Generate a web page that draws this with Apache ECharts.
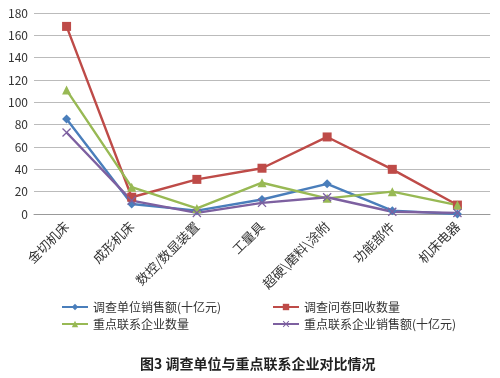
<!DOCTYPE html>
<html>
<head>
<meta charset="utf-8">
<script src="https://cdn.jsdelivr.net/npm/echarts@6/dist/echarts.min.js"></script>
<style>
  html, body { margin: 0; padding: 0; background: #fff; }
  #chart { width: 500px; height: 378px; }
</style>
</head>
<body>
<div id="chart"></div>
<script>
var categories = ["金切机床", "成形机床", "数控/数显装置", "工量具", "超硬\\磨料\\涂附", "功能部件", "机床电器"];
var salesSurvey = [85, 9, 3, 13, 27, 3, 0];      // 调查单位销售额(十亿元)
var questionnaires = [168, 15, 31, 41, 69, 40, 8]; // 调查问卷回收数量
var keyCount = [111, 24, 5, 28, 14, 20, 8];        // 重点联系企业数量
var keySales = [73, 12, 1, 10, 15, 2, 1];          // 重点联系企业销售额(十亿元)
var yTicks = [0, 180, 20];

var names = ["调查单位销售额(十亿元)", "调查问卷回收数量", "重点联系企业数量", "重点联系企业销售额(十亿元)"];
var colors = ["#4a7ebb", "#be4b48", "#98b954", "#7d60a0"];
var xMark = "path://M0,1L1,0L5,4L9,0L10,1L6,5L10,9L9,10L5,6L1,10L0,9L4,5Z";

var chart = echarts.init(document.getElementById("chart"));

function line(i, data, symbol, size) {
  return {
    name: names[i],
    type: "line",
    data: data,
    symbol: symbol,
    symbolSize: size,
    color: colors[i],
    lineStyle: { width: 2.4, color: colors[i] },
    itemStyle: { color: colors[i] },
    animation: false
  };
}

chart.setOption({
  textStyle: { fontFamily: "'Noto Sans CJK SC', 'DejaVu Sans', sans-serif" },
  title: {
    text: "图3 调查单位与重点联系企业对比情况",
    left: 135,
    top: 352,
    textStyle: { fontSize: 14, fontWeight: "bold", color: "#222" }
  },
  legend: [
    {
      data: [names[0], names[2]],
      orient: "vertical",
      left: 56,
      top: 296,
      itemWidth: 26,
      itemHeight: 8,
      itemGap: 5,
      textStyle: { fontSize: 12, color: "#333" }
    },
    {
      data: [names[1], names[3]],
      orient: "vertical",
      left: 267,
      top: 296,
      itemWidth: 26,
      itemHeight: 8,
      itemGap: 5,
      textStyle: { fontSize: 12, color: "#333" }
    }
  ],
  grid: { left: 34, right: 10, top: 13, bottom: 164 },
  xAxis: {
    type: "category",
    data: categories,
    boundaryGap: true,
    axisLine: { lineStyle: { color: "#999" } },
    axisTick: { lineStyle: { color: "#999" }, length: 5 },
    axisLabel: { rotate: 45, fontSize: 13, color: "#333", margin: 10, interval: 0 }
  },
  yAxis: {
    type: "value",
    min: yTicks[0],
    max: yTicks[1],
    interval: yTicks[2],
    axisLine: { show: false },
    axisTick: { show: false },
    axisLabel: { fontSize: 12, color: "#333", margin: 6 },
    splitLine: { lineStyle: { color: "#bbb" } }
  },
  series: [
    line(0, salesSurvey, "diamond", 9),
    line(1, questionnaires, "rect", 9),
    line(2, keyCount, "triangle", 9),
    line(3, keySales, xMark, 9)
  ]
});
</script>
</body>
</html>
